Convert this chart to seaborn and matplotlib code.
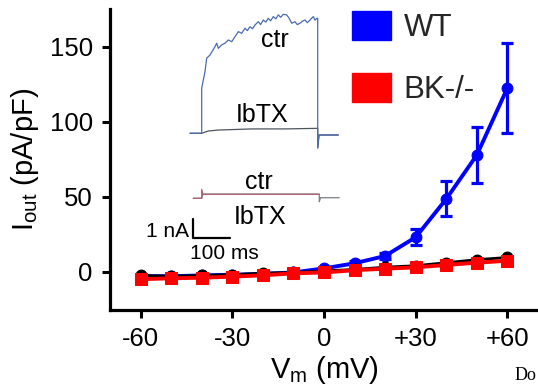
import numpy as np
import pandas as pd
import matplotlib
matplotlib.use("Agg")
import matplotlib.pyplot as plt
import seaborn as sns
from matplotlib.patches import Patch

# ---------------- data ----------------
vm = [-60, -50, -40, -30, -20, -10, 0, 10, 20, 30, 40, 50, 60]
wt_mean = [-3.0, -3.0, -2.5, -2.0, -1.5, -0.5, 2.2, 5.6, 10.5, 23.0, 48.5, 77.8, 122.5]
wt_err = [0.8, 0.8, 0.8, 0.8, 0.8, 0.8, 1.0, 1.2, 2.0, 5.5, 11.7, 18.7, 30.0]
ctl_mean = [-2.5, -3.0, -2.5, -2.0, -1.0, -0.5, 0.5, 1.5, 3.0, 4.0, 6.0, 8.0, 9.5]
ctl_err = [0.6] * 13
ko_mean = [-5.0, -4.4, -4.0, -3.3, -2.4, -1.1, -0.5, 1.0, 2.0, 2.9, 4.5, 6.0, 7.3]
ko_err = [0.8, 0.8, 0.8, 0.8, 1.5, 1.0, 1.0, 1.5, 1.0, 1.0, 1.0, 1.2, 1.2]

xticks = [-60, -30, 0, 30, 60]
xticklabels = ["-60", "-30", "0", "+30", "+60"]
yticks = [0, 50, 100, 150]
legend_labels = ["WT", "BK-/-"]

# inset current traces (time in ms, current in nA)
wt_ctr_t = [0, 31.6, 31.6, 40.5, 45.1, 54.1, 67.6, 72.2, 76.5, 85.7, 94.6, 103.5, 112.7,
            121.6, 130.6, 139.7, 148.7, 155.0, 162.2, 169.0, 175.7, 184.6, 191.0, 198.1,
            205.0, 211.6, 218.0, 225.2, 232.0, 238.7, 245.0, 252.2, 261.4, 268.0, 274.9,
            283.8, 290.0, 297.3, 304.0, 310.8, 317.0, 324.4, 333.3, 338.0, 342.5,
            345.2, 345.2, 348.7, 400.9]
wt_ctr_i = [0, 0, 2.38, 3.24, 3.95, 4.12, 4.56, 4.74, 4.47, 4.65, 4.74, 4.91, 4.82,
            5.08, 5.35, 5.26, 5.53, 5.40, 5.61, 5.50, 5.70, 5.87, 5.72, 5.96,
            5.85, 6.05, 5.92, 6.14, 6.02, 6.23, 6.10, 6.26, 6.23, 6.05, 5.79,
            5.87, 5.72, 5.79, 5.90, 5.96, 5.82, 5.96, 6.14, 5.95, 6.05,
            6.05, -0.77, -0.09, -0.09]
wt_ibtx_t = [0, 31.6, 49.5, 76.5, 166.8, 256.8, 342.5, 345.2, 345.2, 348.7, 400.9]
wt_ibtx_i = [0, 0, 0.12, 0.17, 0.23, 0.23, 0.26, 0.26, -0.77, -0.09, -0.09]
ko_ctr_t = [8.9, 31.6, 31.6, 35.1, 349.5]
ko_ctr_i = [-3.42, -3.42, -2.95, -3.21, -3.21]
ko_ibtx_t = [8.9, 31.6, 35.1, 349.5, 349.5, 352.7, 403.6]
ko_ibtx_i = [-3.42, -3.42, -3.20, -3.20, -3.60, -3.39, -3.39]
scale_t = [8.9, 8.9, 108.9]
scale_i = [-4.51, -5.51, -5.51]

# ---------------- style ----------------
sns.set_theme(style="ticks")
plt.rcParams["font.family"] = ["Liberation Sans", "DejaVu Sans"]
plt.rcParams["mathtext.fontset"] = "custom"
plt.rcParams["mathtext.rm"] = "Liberation Sans"
plt.rcParams["mathtext.it"] = "Liberation Sans"

W, H = 538, 387
fig = plt.figure(figsize=(W / 100, H / 100), dpi=100)
fig.patch.set_facecolor("white")

ax = fig.add_axes([110 / W, 1 - 310 / H, (W - 110) / W, (310 - 9) / H])
ax.set_facecolor("white")

df_wt = pd.DataFrame({"vm": vm, "i": wt_mean})
df_ctl = pd.DataFrame({"vm": vm, "i": ctl_mean})
df_ko = pd.DataFrame({"vm": vm, "i": ko_mean})

blue = "#0000ff"
red = "#ff0000"

ax.errorbar(vm, wt_mean, yerr=wt_err, fmt="none", ecolor=blue, elinewidth=2.3,
            capsize=4.2, capthick=2.3, zorder=2)
sns.lineplot(data=df_wt, x="vm", y="i", ax=ax, color=blue, lw=2.8, marker="o",
             markersize=7.8, markeredgecolor=blue, zorder=3)
ax.errorbar(vm, ctl_mean, yerr=ctl_err, fmt="none", ecolor="black", elinewidth=1.8,
            capsize=0, zorder=4)
sns.lineplot(data=df_ctl, x="vm", y="i", ax=ax, color="black", lw=2.0, marker="o",
             markersize=7.8, markeredgecolor="black", zorder=5)
ax.errorbar(vm, ko_mean, yerr=ko_err, fmt="none", ecolor=red, elinewidth=2.2,
            capsize=0, zorder=6)
sns.lineplot(data=df_ko, x="vm", y="i", ax=ax, color=red, lw=2.8, marker="s",
             markersize=8.0, markeredgecolor=red, zorder=7)

ax.set_xlim(-70, 70)
ax.set_ylim(-25.53, 175.1)
ax.set_xticks(xticks)
ax.set_xticklabels(xticklabels)
ax.set_yticks(yticks)
for s in ["top", "right"]:
    ax.spines[s].set_visible(False)
for s in ["left", "bottom"]:
    ax.spines[s].set_linewidth(2.3)
    ax.spines[s].set_color("black")
ax.tick_params(axis="both", which="major", direction="out", length=5.5, width=2.2,
               color="black", labelsize=18.5, labelcolor="black", pad=7)
ax.set_xlabel("V$_\\mathregular{m}$ (mV)", fontsize=21, color="black", labelpad=2)
ax.set_ylabel("I$_\\mathregular{out}$ (pA/pF)", fontsize=21, color="black", labelpad=6)

# legend
handles = [Patch(facecolor=blue, edgecolor=blue), Patch(facecolor=red, edgecolor=red)]
fig.legend(handles, legend_labels, loc="upper left",
           bbox_to_anchor=(352 / W, 1 - 11 / H), frameon=False, fontsize=22.5,
           handlelength=1.25, handleheight=1.05, handletextpad=0.4,
           labelspacing=0.95, borderpad=0, borderaxespad=0)

# inset traces
iax = fig.add_axes([160 / W, 1 - 265 / H, 190 / W, 260 / H])
iax.set_axis_off()
iax.patch.set_alpha(0)
iax.set_xlim(-81.1, 432.5)
iax.set_ylim(-6.93, 6.75)
kw = dict(ax=iax, sort=False, estimator=None)
sns.lineplot(x=wt_ibtx_t, y=wt_ibtx_i, color="#4d5560", lw=0.9, **kw)
sns.lineplot(x=wt_ctr_t, y=wt_ctr_i, color="#4a6cb0", lw=0.9, **kw)
sns.lineplot(x=ko_ibtx_t, y=ko_ibtx_i, color="#7a7f88", lw=0.9, **kw)
sns.lineplot(x=ko_ctr_t, y=ko_ctr_i, color="#b06070", lw=0.9, **kw)
sns.lineplot(x=scale_t, y=scale_i, color="black", lw=1.6, **kw)

iax.text(229.8, 4.91, "ctr", fontsize=18, ha="center", va="center", color="black")
iax.text(194.6, 0.95, "IbTX", fontsize=18, ha="center", va="center", color="black")
iax.text(186.5, -2.55, "ctr", fontsize=18, ha="center", va="center", color="black")
iax.text(189.2, -4.4, "IbTX", fontsize=18, ha="center", va="center", color="black")
iax.text(-2, -5.15, "1 nA", fontsize=15, ha="right", va="center", color="black")
iax.text(91.9, -6.35, "100 ms", fontsize=15, ha="center", va="center", color="black")

fig.text(515 / W, 1 - 375 / H, "Do", fontsize=13, color="black",
         family=["Liberation Serif", "DejaVu Serif"], ha="left", va="center")

fig.savefig("out.png", dpi=100, facecolor="white")
